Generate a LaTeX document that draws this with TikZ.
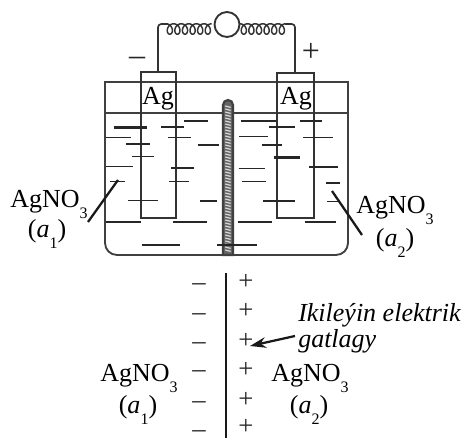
\documentclass[tikz,border=0pt]{standalone}
\usepackage{fontspec}
\setmainfont{Liberation Serif}
\usetikzlibrary{arrows.meta}
\newcommand{\bigtxt}{\fontsize{19.5}{21}\selectfont}
\newcommand{\lowsub}[1]{\raisebox{-0.4em}{\fontsize{12}{13}\selectfont #1}}
\newcommand{\silver}{AgNO\lowsub{3}}
\newcommand{\act}[1]{(\textit{a}\lowsub{#1})}
\tikzset{
  x=0.75pt,y=-0.75pt,
  wire/.style={draw=black!80,line width=1.25pt},
  vessel/.style={draw=black!75,line width=1.4pt},
  ion/.style={draw=black!85,line width=1.25pt},
  ionthick/.style={draw=black!85,line width=1.75pt},
  pointer/.style={draw=black!90,line width=1.7pt},
  txt/.style={anchor=base,inner sep=0pt,font=\bigtxt},
  itxt/.style={anchor=base west,inner sep=0pt,font=\bigtxt\itshape},
  sign/.style={anchor=base,inner sep=0pt,font=\fontsize{20}{22}\selectfont,text=black!85},
}
\begin{document}
\begin{tikzpicture}
\useasboundingbox (0,0) rectangle (468,438);
% anchors
\coordinate (wl) at (158,72);
\coordinate (wr) at (295,73);
\coordinate (wlt) at (158,24);
\coordinate (wrt) at (295,24);
\coordinate (gal) at (227,24.5);
% vessel
\draw[vessel] (105,82) -- (105,243) arc[start angle=180,end angle=90,radius=12] -- (336,255) arc[start angle=90,end angle=0,radius=12] -- (348,82) -- cycle;
\draw[vessel] (105,113) -- (348,113);
% electrodes
\draw[wire] (141,113) -- (141,72) -- (176,72) -- (176,218) -- (141,218) -- (141,113);
\draw[wire] (277,113) -- (277,73) -- (314,73) -- (314,218) -- (277,218) -- (277,113);
% wires and galvanometer
\draw[wire,rounded corners=2.5pt] (wl) -- (wlt) -- (168,24);
\draw[wire,rounded corners=2.5pt] (wr) -- (wrt) -- (285,24);
\draw[wire,line width=1.1pt,smooth,samples=240,domain=0:2160,variable=\t] plot ({166+\t/360*7.6+4.3*sin(\t)},{29-5.2*cos(\t)});
\draw[wire,line width=1.1pt,smooth,samples=240,domain=0:2160,variable=\t] plot ({240+\t/360*7.6+4.3*sin(\t)},{29-5.2*cos(\t)});
\draw[wire,fill=white,line width=1.4pt] (gal) circle[radius=12.5];
% ions
\foreach \a/\b/\c in {48/123/53,125/193/110,48/130/140,60/105/185,115/205/242,48/153/307,155/270/376,213/283/21,235/303/53,238/297/185,323/388/75,330/382/244,248/350/306,536/616/21,447/535/50,516/577/76,446/524/146,457/529/185,520/614/243,443/546/306,629/695/3,639/728/53,658/745/142,709/749/190,712/750/245,645/737/307}
  \draw[ion] ({90+\a/3},{120+\c/3}) -- ({90+\b/3},{120+\c/3});
\foreach \a/\b/\c in {73/170/23,108/180/73,243/312/144,283/355/3,452/558/3,551/630/113}
  \draw[ionthick] ({90+\a/3},{120+\c/3}) -- ({90+\b/3},{120+\c/3});
% porous tube
\draw[vessel,fill=black!60,line width=1.6pt] (223,255) -- (223,105) arc[start angle=180,end angle=360,radius=5] -- (233,255) -- cycle;
\foreach \k in {0,...,48}
  \draw[white!85!black,line width=0.9pt] (225.3,{106+\k*3}) -- (230.7,{107.4+\k*3});
\draw[ion] ({90+381/3},{120+375/3}) -- ({90+500/3},{120+375/3});
% pointer lines
\coordinate (pl1) at (88,222); \coordinate (pl2) at (118,180);
\coordinate (pr1) at (332,191); \coordinate (pr2) at (362,235);
\draw[pointer] (pl1) -- (pl2);
\draw[pointer] (pr1) -- (pr2);
% upper labels
\node[txt] (ag1) at (158,104.5) {Ag};
\node[txt] (ag2) at (296,104.5) {Ag};
\node[txt,anchor=base west] (s1) at (10,208) {\silver};
\node[txt] (s1a) at (47,238) {\act{1}};
\node[txt,anchor=base west] (s2) at (356,214) {\silver};
\node[txt] (s2a) at (395,247) {\act{2}};
\node[sign,font=\fontsize{24}{26}\selectfont] (mm) at (137,66) {–};
\node[sign,font=\fontsize{24}{26}\selectfont] (pp) at (311,62) {+};
% lower diagram
\draw[draw=black!90,line width=1.6pt] (226,273) -- (226,438);
\foreach \y in {287,317,346,374,404,433}
  \node[sign] at (199,{\y+4}) {\smash{–}};
\foreach \y in {283,312,342,371,400,428}
  \node[sign] at (246,{\y+7}) {\smash{+}};
\node[itxt] (ik) at (298,322) {Ikileýin elektrik};
\node[itxt] (ga) at (298,348) {gatlagy};
\coordinate (at) at (250,346);
\coordinate (af) at (295,336);
\draw[pointer,-{Stealth[length=12pt,width=8pt]}] (af) -- (at);
\node[txt,anchor=base west] (b1) at (100,382) {\silver};
\node[txt] (b1a) at (138,414) {\act{1}};
\node[txt,anchor=base west] (b2) at (271,382) {\silver};
\node[txt] (b2a) at (309,414) {\act{2}};
\end{tikzpicture}
\end{document}
